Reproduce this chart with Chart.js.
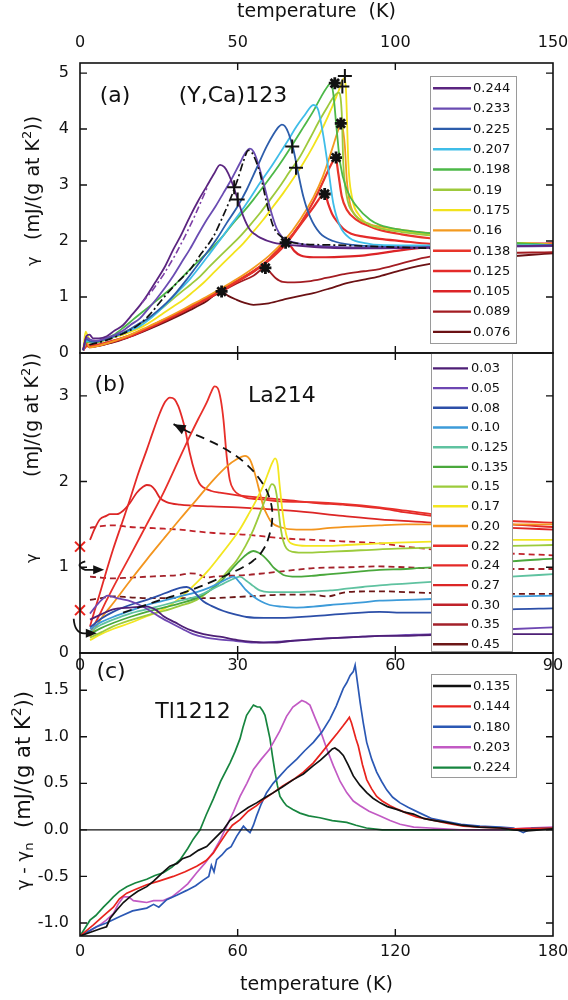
<!DOCTYPE html>
<html>
<head>
<meta charset="utf-8">
<script src="https://cdn.jsdelivr.net/npm/chart.js@4.4.1/dist/chart.umd.min.js"></script>
<style>
  body { margin: 0; background: #fff; width: 568px; height: 1000px; position: relative; overflow: hidden; }
  canvas { position: absolute; left: 0; }
</style>
</head>
<body>
<canvas id="panelA" width="568" height="363" style="top:0px"></canvas>
<canvas id="panelB" width="568" height="350" style="top:343px"></canvas>
<canvas id="panelC" width="568" height="357" style="top:643px"></canvas>
<script>
// ---------- panel (a): (Y,Ca)123 ----------
const ticksXA = [0, 50, 100, 150];
const ticksYA = [0, 1, 2, 3, 4, 5];
const labelsA = ['0.244', '0.233', '0.225', '0.207', '0.198', '0.19', '0.175', '0.16', '0.138', '0.125', '0.105', '0.089', '0.076'];
const colorsA = ['#5b2580', '#6a4cb2', '#2d5dab', '#3fbde8', '#4cb848', '#9dc93c', '#f2e31c', '#f39a1f', '#e8352a', '#e42b2a', '#dc2427', '#a31c22', '#6b1114'];

const a0244 = [[1,0.05],[2,0.3],[3,0.33],[4.2,0.26],[6,0.26],[8.5,0.3],[11,0.4],[13.7,0.5],[16,0.65],[19,0.85],[21.5,1.05],[24.3,1.3],[27,1.55],[29.6,1.85],[32,2.1],[34.9,2.44],[37.5,2.72],[40.2,2.98],[42.5,3.2],[44.4,3.36],[45.8,3.32],[47,3.21],[48.5,3.0],[49.7,2.8],[51.8,2.44],[53.9,2.2],[55.5,2.12],[57.1,2.06],[61.3,1.97],[68.7,1.92],[79.3,1.88],[95,1.87],[110,1.88],[130,1.9],[150,1.92]];
const a0233 = [[1,0.05],[2,0.28],[3.2,0.24],[5,0.22],[8.5,0.27],[11,0.32],[13.7,0.4],[16,0.5],[19,0.62],[21.5,0.78],[24.3,0.97],[27,1.17],[29.6,1.38],[32,1.6],[34.9,1.86],[37.5,2.12],[40.2,2.38],[43,2.62],[45.5,2.86],[48,3.1],[50.7,3.39],[52.5,3.58],[53.9,3.65],[55,3.6],[56,3.47],[58.1,3.06],[60.3,2.58],[62.4,2.22],[64,2.08],[65.5,2.02],[70.8,1.94],[79.3,1.9],[95,1.88],[110,1.88],[130,1.9],[150,1.91]];
const a0225 = [[1,0.05],[2,0.25],[3.2,0.21],[5,0.2],[8.5,0.26],[11.5,0.31],[14.8,0.39],[18,0.5],[21.1,0.6],[24.3,0.74],[27.5,0.9],[30.5,1.08],[33.8,1.31],[37,1.55],[40.2,1.79],[43.5,2.05],[46.5,2.32],[50,2.62],[52.9,2.92],[56,3.3],[59.2,3.69],[61.5,3.92],[63,4.04],[64,4.08],[65,4.05],[66.1,3.93],[67.7,3.63],[69.2,3.21],[70.8,2.8],[72.9,2.44],[76.1,2.14],[80.3,2.0],[86.7,1.93],[95,1.9],[110,1.89],[130,1.9],[150,1.92]];
const a0207 = [[1,0.05],[2,0.22],[4,0.2],[6.3,0.22],[9.5,0.27],[12.7,0.33],[15.8,0.4],[19,0.48],[22,0.6],[25.4,0.77],[28.5,0.94],[31.7,1.13],[35,1.33],[38.1,1.55],[41.2,1.78],[44.4,2.02],[47.5,2.26],[50.7,2.5],[54,2.77],[57.1,3.04],[60.3,3.3],[63.4,3.57],[66,3.8],[68.7,4.05],[71.5,4.27],[73.2,4.4],[74,4.43],[75,4.4],[75.6,4.33],[77.2,3.87],[78.8,3.27],[80.3,2.68],[82.5,2.26],[85.6,2.05],[90.9,1.96],[95,1.93],[110,1.92],[130,1.92],[150,1.93]];
const a0198 = [[1,0.05],[2,0.2],[5.3,0.2],[8,0.25],[10.6,0.32],[13.7,0.45],[16.9,0.6],[20,0.74],[23.3,0.89],[26.5,1.04],[29.6,1.19],[32.7,1.37],[35.9,1.55],[39,1.72],[42.3,1.9],[45.5,2.1],[48.6,2.32],[51.8,2.52],[55,2.74],[58.1,2.97],[61.3,3.21],[64.5,3.47],[67.7,3.75],[70.8,4.03],[74,4.32],[76.5,4.58],[78.5,4.76],[79.5,4.82],[80.3,4.64],[81.4,3.99],[82.5,3.39],[84.6,2.92],[87.7,2.62],[92,2.38],[95,2.29],[102,2.2],[111,2.14],[130,2.0],[150,1.93]];
const a0190 = [[1,0.05],[2,0.2],[6.3,0.2],[9.5,0.27],[12.7,0.33],[15.8,0.42],[19,0.51],[22,0.63],[25.4,0.77],[28.5,0.92],[31.7,1.07],[35,1.22],[38.1,1.37],[41.2,1.55],[44.4,1.73],[47.5,1.9],[50.7,2.08],[54,2.29],[57.1,2.5],[60.3,2.74],[63.4,2.98],[66.5,3.24],[69.8,3.51],[73,3.84],[76.1,4.17],[78.5,4.4],[80.5,4.58],[82,4.65],[83,4.29],[83.5,3.39],[84.6,2.8],[86.7,2.5],[90.9,2.32],[95,2.23],[102,2.16],[111,2.1],[130,1.98],[150,1.92]];
const a0175 = [[1,0.05],[1.8,0.38],[2.5,0.3],[4,0.18],[7.4,0.22],[10.5,0.28],[13.7,0.33],[17,0.4],[20.1,0.48],[23.3,0.59],[26.4,0.71],[29.6,0.83],[32.8,0.95],[36,1.1],[39.1,1.25],[42.3,1.43],[45.5,1.61],[48.6,1.78],[51.8,1.96],[55,2.17],[58.1,2.38],[61.3,2.62],[64.5,2.86],[67.7,3.12],[70.8,3.39],[74,3.7],[77.2,4.05],[80,4.4],[82.5,4.75],[83.6,4.9],[84.3,4.75],[84.6,4.3],[85.1,3.39],[86.2,2.8],[88.8,2.44],[93,2.26],[95,2.23],[102,2.18],[111,2.12],[130,2.0],[150,1.93]];
const a0160 = [[1,0.05],[2,0.2],[3,0.1],[5,0.12],[10,0.2],[15,0.3],[20,0.43],[25,0.56],[30,0.7],[35,0.85],[40,1.0],[45,1.16],[50,1.33],[55,1.52],[60,1.74],[65,2.02],[70,2.4],[74,2.78],[77,3.15],[80,3.65],[82,4.0],[82.8,4.1],[83.5,3.95],[84,3.69],[84.6,3.1],[85.6,2.68],[87.7,2.44],[92,2.3],[95,2.26],[102,2.2],[111,2.14],[130,2.0],[150,1.94]];
const a0138 = [[1,0.05],[2,0.12],[5,0.14],[10,0.21],[15,0.29],[20,0.41],[25,0.54],[30,0.68],[35,0.82],[40,0.97],[45,1.12],[50,1.29],[55,1.46],[60,1.67],[65,1.95],[70,2.32],[74,2.7],[77,3.05],[79.5,3.35],[81.1,3.48],[81.9,3.21],[83,2.8],[84.6,2.56],[87.7,2.38],[92,2.26],[95,2.2],[102,2.12],[111,2.05],[130,1.95],[150,1.92]];
const a0125 = [[1,0.05],[2,0.15],[5,0.13],[10,0.2],[15,0.28],[20,0.4],[25,0.53],[30,0.67],[35,0.81],[40,0.96],[45,1.11],[50,1.28],[55,1.45],[60,1.66],[65,1.93],[70,2.3],[74,2.6],[76.5,2.8],[77.6,2.84],[78.8,2.65],[80,2.48],[81.5,2.35],[83.5,2.22],[86,2.13],[90,2.08],[95,2.04],[102,2.0],[111,1.95],[130,1.92],[150,1.95]];
const a0105 = [[1,0.05],[2,0.14],[5,0.14],[10,0.21],[15,0.3],[20,0.41],[25,0.55],[30,0.68],[35,0.83],[40,0.98],[45,1.13],[50,1.29],[55,1.46],[60,1.68],[63,1.85],[65.2,1.97],[66.5,1.93],[68,1.82],[70,1.74],[74,1.71],[78,1.71],[84,1.72],[89.5,1.74],[95,1.78],[101,1.83],[111,1.89],[130,1.94],[150,1.96]];
const a0089 = [[1,0.05],[2,0.12],[5,0.12],[10,0.19],[15,0.28],[20,0.39],[25,0.52],[30,0.65],[35,0.8],[40,0.95],[45,1.1],[50,1.25],[55,1.38],[58.8,1.52],[60,1.46],[62,1.34],[64.3,1.27],[68,1.26],[72.3,1.28],[78,1.34],[83.8,1.41],[90,1.46],[95,1.5],[102,1.6],[111,1.72],[130,1.78],[150,1.8]];
const a0076 = [[1,0.05],[2,0.18],[3,0.1],[5,0.12],[10,0.18],[15,0.27],[20,0.38],[25,0.5],[30,0.63],[35,0.77],[40,0.92],[44.9,1.1],[47,1.02],[49.7,0.95],[52,0.9],[55,0.86],[59.2,0.88],[64.3,0.95],[68,1.0],[74,1.07],[79,1.15],[84.6,1.25],[90,1.31],[95,1.37],[102,1.48],[111,1.59],[130,1.7],[150,1.78]];
const seriesA = [a0244, a0233, a0225, a0207, a0198, a0190, a0175, a0160, a0138, a0125, a0105, a0089, a0076];

const dashDotPurpleA = [[19.7,0.9],[23,1.12],[26.5,1.4],[30,1.73],[33,2.05],[36,2.4],[38.5,2.72],[40.5,2.98]];
const dashDotBlackA = [[3,0.15],[8,0.22],[13,0.33],[18,0.48],[22,0.68],[26.4,0.98],[30.5,1.24],[34.9,1.49],[38.5,1.78],[42.3,2.08],[45,2.4],[47.6,2.74],[50,3.1],[51.8,3.42],[53.4,3.62],[54.5,3.58],[56,3.4],[57.1,3.21],[59.2,2.68],[61.3,2.26],[64.5,2.05],[68.7,1.96],[79.3,1.93],[95,1.9],[111,1.87]];
const markBoldA = [[44.9,1.1],[58.8,1.52],[65.2,1.97],[77.6,2.84],[81.2,3.49],[82.7,4.1],[80.8,4.82]];
const markThinA = [[48.9,2.96],[50,2.74],[67.3,3.69],[68.5,3.31],[84,4.95],[83.2,4.76]];

// ---------- panel (b): La214 ----------
const ticksXB = [0, 30, 60, 90];
const ticksYB = [0, 1, 2, 3];
const labelsB = ['0.03', '0.05', '0.08', '0.10', '0.125', '0.135', '0.15', '0.17', '0.20', '0.22', '0.24', '0.27', '0.30', '0.35', '0.45'];
const colorsB = ['#4e1f76', '#6e47b2', '#2c4fa8', '#3d9bd9', '#5fc2a0', '#4aa83c', '#9ccb3c', '#f3e620', '#f3951e', '#e8302a', '#e42a28', '#dc2626', '#c0222a', '#a3212a', '#6c1717'];

const b003 = [[1.9,0.39],[4,0.45],[6.3,0.51],[9.5,0.53],[12.7,0.54],[14.5,0.5],[15.9,0.43],[18,0.36],[20.9,0.27],[23.5,0.22],[26.6,0.19],[30,0.15],[33,0.13],[36.6,0.12],[40,0.14],[44.4,0.16],[47,0.17],[53.8,0.19],[57,0.2],[62,0.2],[66.9,0.21],[75,0.21],[82,0.22],[90,0.22]];
const b005 = [[1.9,0.46],[3.5,0.58],[5.3,0.67],[7,0.64],[9.8,0.6],[12,0.54],[13.9,0.47],[15.5,0.41],[17.3,0.35],[19.5,0.28],[21.5,0.22],[24,0.18],[26.3,0.16],[29.7,0.14],[33,0.12],[37,0.13],[40,0.14],[44,0.16],[47,0.17],[50,0.18],[53.8,0.19],[57,0.2],[62,0.21],[66.9,0.22],[75,0.25],[82.7,0.28],[90,0.3]];
const b008 = [[1.9,0.3],[4,0.4],[6.3,0.48],[9.5,0.56],[12.7,0.62],[15,0.67],[17.1,0.72],[19,0.76],[20.3,0.77],[21.3,0.74],[22.2,0.68],[23.5,0.6],[25,0.55],[27.3,0.49],[29.5,0.45],[31.7,0.42],[35,0.41],[38,0.41],[44.4,0.43],[50.7,0.46],[57,0.48],[62,0.47],[66.9,0.47],[75,0.49],[82,0.51],[90,0.52]];
const b010 = [[1.9,0.28],[4,0.36],[6.3,0.42],[9.5,0.49],[12.7,0.56],[15.9,0.61],[19,0.66],[22.2,0.71],[24.5,0.76],[26.6,0.82],[28.2,0.87],[29.2,0.89],[30.4,0.82],[31.5,0.74],[33,0.66],[34.5,0.6],[36.1,0.56],[38.5,0.54],[41.2,0.53],[44.4,0.54],[47.6,0.56],[53.8,0.59],[57,0.61],[62,0.62],[66.9,0.63],[75,0.64],[82,0.66],[90,0.67]];
const b0125 = [[1.9,0.25],[4,0.33],[6.3,0.39],[9.5,0.46],[12.7,0.51],[15.9,0.56],[19,0.61],[22.2,0.66],[25,0.74],[27.3,0.81],[29,0.86],[30.4,0.89],[31.7,0.84],[33,0.78],[34.2,0.73],[36,0.71],[38,0.71],[41,0.71],[44.4,0.72],[47.6,0.73],[50.7,0.75],[53.8,0.77],[57,0.79],[62,0.81],[66.9,0.83],[75,0.86],[82,0.89],[90,0.92]];
const b0135 = [[1.9,0.22],[4,0.29],[6.3,0.35],[9.5,0.42],[12.7,0.48],[15.9,0.53],[19,0.58],[22.2,0.64],[24.5,0.72],[26.6,0.82],[28.2,0.93],[29.8,1.04],[31.7,1.15],[33,1.19],[34,1.17],[34.9,1.13],[36,1.06],[36.8,1.0],[38,0.94],[38.7,0.91],[41.2,0.89],[44,0.9],[47.6,0.92],[53,0.95],[57,0.97],[62,0.98],[66.9,1.0],[75,1.03],[82,1.07],[90,1.1]];
const b015 = [[1.9,0.18],[4,0.24],[6.3,0.31],[9.5,0.38],[12.7,0.44],[15.9,0.49],[19,0.55],[22.2,0.62],[24.5,0.72],[26.6,0.85],[28.3,0.97],[29.8,1.08],[31.5,1.25],[33,1.44],[34.3,1.64],[35.5,1.83],[36.5,1.97],[37,1.95],[37.4,1.85],[37.8,1.65],[38.2,1.45],[38.7,1.3],[39.3,1.22],[40.5,1.18],[43.1,1.17],[47,1.18],[50.7,1.19],[57,1.21],[62,1.22],[66.9,1.23],[75,1.24],[82,1.25],[90,1.26]];
const b017 = [[1.9,0.15],[4,0.22],[6.3,0.28],[9.5,0.35],[12.7,0.43],[15.9,0.51],[19,0.64],[22.2,0.82],[24.5,0.97],[26.6,1.13],[28.5,1.28],[30.4,1.44],[32,1.61],[33.6,1.79],[35,1.97],[35.8,2.1],[36.6,2.22],[37.1,2.27],[37.6,2.2],[38,1.95],[38.4,1.72],[39,1.45],[39.5,1.33],[40.5,1.27],[43.1,1.25],[47,1.25],[50.7,1.26],[57,1.28],[62,1.29],[66.9,1.3],[75,1.31],[82,1.32],[90,1.32]];
const b020 = [[1.9,0.19],[4,0.4],[6.3,0.58],[9.5,0.84],[12.7,1.09],[15.9,1.33],[19,1.56],[22.2,1.79],[25.4,2.02],[28,2.18],[29.8,2.26],[31.4,2.3],[32.3,2.26],[33,2.15],[33.6,2.02],[34.3,1.85],[34.9,1.71],[35.7,1.6],[36.5,1.52],[38,1.47],[41.2,1.44],[44,1.44],[47.6,1.46],[53.8,1.48],[57,1.49],[62,1.5],[66.9,1.5],[75,1.5],[82,1.5],[90,1.5]];
const b022 = [[1.9,0.23],[3.5,0.42],[5.1,0.62],[7.3,0.88],[9.5,1.13],[12.7,1.5],[15.9,1.87],[18.4,2.2],[20.9,2.53],[22.5,2.73],[24.1,2.92],[25,3.05],[25.6,3.11],[26.2,3.09],[26.8,2.95],[27.3,2.72],[27.9,2.3],[28.5,2.02],[29.3,1.9],[30.5,1.84],[31.7,1.81],[35,1.79],[38,1.77],[44.4,1.76],[50,1.74],[57,1.7],[62,1.66],[66.9,1.62],[75,1.57],[82,1.54],[90,1.52]];
const b024 = [[1.9,0.31],[2.8,0.5],[3.8,0.7],[5,0.95],[6.3,1.21],[7.9,1.5],[9.5,1.79],[11,2.08],[12.7,2.37],[14,2.6],[15.2,2.8],[16.2,2.93],[17.1,2.98],[18,2.96],[18.7,2.88],[19.4,2.75],[20,2.61],[20.9,2.33],[21.9,2.1],[22.7,1.98],[23.5,1.93],[25,1.89],[26.6,1.87],[30,1.84],[35,1.81],[40,1.78],[45,1.75],[50,1.73],[57,1.69],[62,1.64],[66.9,1.6],[75,1.55],[82,1.5],[90,1.47]];
const b027 = [[1.9,1.32],[2.8,1.45],[3.8,1.56],[5,1.6],[5.7,1.62],[7,1.62],[8.2,1.66],[9.5,1.75],[10.8,1.87],[12,1.94],[12.7,1.96],[13.5,1.95],[14.3,1.9],[15.2,1.81],[16.5,1.76],[19,1.73],[25,1.71],[30,1.7],[40,1.66],[50,1.6],[57,1.56],[66.9,1.52],[75,1.48],[82,1.46],[90,1.44]];
const b030 = [[1.9,1.46],[4,1.48],[6.3,1.49],[9.5,1.47],[12.7,1.46],[16,1.45],[19,1.44],[22,1.42],[25.4,1.4],[28.5,1.39],[31.7,1.38],[35,1.36],[38,1.34],[44.4,1.32],[50.7,1.3],[57,1.28],[62,1.24],[66.9,1.21],[75,1.18],[82,1.16],[90,1.14]];
const b035 = [[1.9,0.89],[4,0.88],[6.3,0.87],[9.5,0.88],[12.7,0.89],[16,0.9],[19,0.91],[21,0.93],[22.5,0.92],[24,0.88],[25.4,0.89],[28,0.9],[31.7,0.91],[35,0.93],[38,0.95],[41,0.97],[44.4,0.99],[50.7,1.0],[57,1.01],[62,1.0],[66.9,0.99],[75,0.99],[82,0.98],[90,0.98]];
const b045 = [[1.9,0.62],[4,0.64],[6.3,0.66],[9.5,0.65],[12.7,0.64],[16,0.64],[19,0.64],[22.2,0.64],[25.4,0.64],[28.5,0.65],[31.7,0.66],[35,0.67],[38,0.68],[44.4,0.68],[47,0.66],[50.7,0.71],[57,0.72],[62,0.71],[66.9,0.7],[75,0.69],[82,0.69],[90,0.69]];
const seriesB = [b003, b005, b008, b010, b0125, b0135, b015, b017, b020, b022, b024, b027, b030, b035, b045];
const dashedB = [false, false, false, false, false, false, false, false, false, false, false, false, true, true, true];

const gammaZeroB = [[0,1.24],[0,0.5]];
const trendArrowB = [[8.2,0.47],[12,0.55],[15.9,0.63],[19,0.69],[22.2,0.76],[25,0.83],[27.9,0.91],[31,1.0],[33,1.08],[34.6,1.18],[35.9,1.35],[36.6,1.6],[36,1.82],[34.5,2.0],[31.7,2.2],[27.9,2.37],[24.1,2.49],[20.3,2.59],[17.8,2.67]];
const hookUpperB = [[1.0,1.07],[-1.2,1.03],[1.0,0.97],[4.6,0.97]];
const hookLowerB = [[-1.2,0.4],[-1.0,0.23],[0.8,0.23],[3.2,0.23]];

// ---------- panel (c): Tl1212 ----------
const ticksXC = [0, 60, 120, 180];
const ticksYC = [-1, -0.5, 0, 0.5, 1, 1.5];
const labelsC = ['0.135', '0.144', '0.180', '0.203', '0.224'];
const colorsC = ['#111111', '#e8231d', '#2b58b4', '#c25ac4', '#17853f'];

const c0135 = [[0,-1.14],[4,-1.1],[8,-1.06],[10.1,-1.04],[11.5,-0.95],[14,-0.86],[16.5,-0.78],[19,-0.72],[22,-0.66],[25.4,-0.61],[28,-0.55],[31,-0.47],[34.2,-0.39],[37,-0.36],[39,-0.31],[41.9,-0.28],[45,-0.22],[48.2,-0.18],[51,-0.1],[54.5,0.0],[57,0.1],[60.9,0.18],[64,0.24],[67.2,0.29],[70,0.34],[73.6,0.4],[77,0.46],[81.2,0.54],[85,0.6],[88.8,0.69],[91.5,0.75],[93.9,0.81],[96,0.87],[97,0.88],[98.5,0.85],[100.2,0.8],[102,0.7],[104,0.58],[106.5,0.48],[109.1,0.4],[111.5,0.34],[114.2,0.29],[117,0.25],[120.5,0.22],[123.5,0.19],[126.9,0.17],[131,0.12],[135,0.1],[139.5,0.08],[145,0.05],[152,0.03],[160,0.02],[165,0.0],[170,-0.01],[180,0.01]];
const c0144 = [[0,-1.14],[5.1,-1.02],[9,-0.92],[12.7,-0.83],[15,-0.74],[17.8,-0.68],[21,-0.64],[25.4,-0.59],[30,-0.55],[35.5,-0.5],[40,-0.45],[44.4,-0.39],[48,-0.33],[50.7,-0.25],[53,-0.15],[55.8,-0.03],[58,0.05],[60.9,0.11],[64,0.2],[67.2,0.26],[70,0.33],[73.6,0.4],[77,0.47],[81.2,0.54],[85,0.62],[88.8,0.72],[92,0.83],[95.1,0.94],[98,1.04],[100.2,1.12],[101.5,1.17],[102.5,1.21],[103.3,1.15],[104,1.08],[105,0.98],[105.9,0.9],[107.5,0.7],[109.1,0.54],[111,0.44],[112.9,0.36],[115,0.31],[118,0.26],[121,0.22],[124.3,0.18],[128,0.14],[133.2,0.11],[140,0.07],[145.9,0.04],[152,0.03],[158.6,0.02],[165,0.01],[180,0.02]];
const c0180 = [[0,-1.14],[6.3,-1.04],[10,-1.0],[15.2,-0.93],[20,-0.87],[25.4,-0.84],[28,-0.8],[30,-0.83],[33,-0.75],[37,-0.7],[40.6,-0.65],[44,-0.6],[46.9,-0.54],[49,-0.5],[50,-0.38],[51,-0.45],[52,-0.32],[54,-0.27],[55.8,-0.21],[57.5,-0.18],[59.6,-0.07],[61,-0.01],[62.2,0.04],[63.5,0.0],[64.7,-0.03],[66,0.05],[67.2,0.15],[69,0.28],[71,0.4],[73.5,0.5],[76.1,0.58],[79,0.67],[82.5,0.76],[85.5,0.85],[88.8,0.94],[92,1.05],[95.1,1.19],[97.5,1.33],[100.2,1.52],[101.5,1.58],[102.8,1.66],[104,1.7],[104.7,1.77],[105.5,1.6],[106.6,1.37],[107.8,1.15],[109.1,0.94],[111,0.76],[112.9,0.62],[114.8,0.52],[116.7,0.43],[119,0.35],[121.8,0.29],[125,0.24],[129.4,0.18],[134,0.12],[139.5,0.09],[145,0.06],[152.2,0.04],[160,0.03],[165,0.02],[168.7,-0.03],[172,0.02],[180,0.02]];
const c0203 = [[0,-1.14],[4,-1.08],[7.6,-1.02],[10,-0.97],[12.7,-0.9],[14.5,-0.8],[16.5,-0.72],[18.5,-0.72],[20.3,-0.76],[23,-0.77],[25.4,-0.78],[28,-0.76],[31.7,-0.76],[35,-0.72],[38.1,-0.65],[41,-0.58],[44.4,-0.46],[47.5,-0.36],[50.7,-0.24],[53.5,-0.1],[55.8,0.04],[58.5,0.2],[60.9,0.36],[63.5,0.5],[66,0.65],[69,0.76],[72,0.86],[73.6,0.94],[76,1.06],[78.6,1.22],[81,1.32],[84.4,1.39],[86,1.37],[87.5,1.34],[89.5,1.2],[91.3,1.08],[93.8,0.88],[96.4,0.69],[99,0.52],[101.5,0.4],[104,0.31],[106.6,0.26],[110,0.2],[114.2,0.15],[118,0.1],[121.8,0.06],[127,0.03],[133.2,0.02],[145,0.0],[160,0.0],[170,0.02],[180,0.03]];
const c0224 = [[0,-1.14],[3.8,-0.97],[6,-0.92],[8.9,-0.83],[11,-0.77],[12.7,-0.72],[15,-0.66],[17.8,-0.61],[21,-0.57],[25.4,-0.53],[28.5,-0.49],[31.7,-0.46],[35,-0.4],[38.1,-0.32],[41,-0.2],[43.1,-0.1],[45.7,0.0],[48,0.16],[50.7,0.33],[53.5,0.52],[57.1,0.72],[59,0.84],[60.9,0.98],[62,1.1],[63.4,1.23],[65,1.3],[66,1.34],[67.5,1.32],[68.5,1.32],[69.5,1.28],[70.4,1.23],[71.4,1.1],[72.3,0.98],[73.2,0.8],[74.2,0.62],[75.1,0.48],[76.1,0.36],[77.5,0.3],[78.6,0.26],[81,0.22],[83.7,0.18],[87,0.15],[91.3,0.13],[96,0.1],[101.5,0.08],[105,0.05],[109,0.02],[115,0.0],[120.5,0.0],[140,0.0],[160,0.0],[180,0.01]];
const seriesC = [c0135, c0144, c0180, c0203, c0224];
const zeroLineC = [[0,0],[180,0]];

// ---------- helpers ----------
const FONT = "'DejaVu Sans', sans-serif";
const GAMMA = '\u03b3';
Chart.defaults.font.family = FONT;
Chart.defaults.color = '#111';

// rotated y titles: each part starts at (bx, y) in canvas pixels and reads upwards
const yTitleA = [
  {bx: 38, y: 266, runs: [[GAMMA, 16, 0]]},
  {bx: 39, y: 240, runs: [['(mJ/(g at K', 19, 0], ['2', 13, 8], ['))', 19, 0]]}
];
const yTitleB = [
  {bx: 37, y: 220, runs: [[GAMMA, 16, 0]]},
  {bx: 38, y: 134, runs: [['(mJ/(g at K', 19, 0], ['2', 13, 8], ['))', 19, 0]]}
];
const yTitleC = [
  {bx: 29, y: 247, runs: [[GAMMA + ' - ' + GAMMA, 18, 0], ['n', 13, -4]]},
  {bx: 30, y: 185, runs: [['(mJ/(g at K', 21, 0], ['2', 14, 9], ['))', 21, 0]]}
];

const pts = arr => arr.map(([x, y]) => ({x, y}));
function line(data, color, width, extra) {
  return Object.assign({
    data: pts(data), borderColor: color, backgroundColor: color, borderWidth: width,
    pointRadius: 0, pointHoverRadius: 0, showLine: true, fill: false
  }, extra || {});
}
function head(ctx, x1, y1, x2, y2, len, half) {
  const a = Math.atan2(y2 - y1, x2 - x1);
  const bx = x2 - len * Math.cos(a), by = y2 - len * Math.sin(a);
  ctx.beginPath();
  ctx.moveTo(x2, y2);
  ctx.lineTo(bx + half * Math.sin(a), by - half * Math.cos(a));
  ctx.lineTo(bx - half * Math.sin(a), by + half * Math.cos(a));
  ctx.closePath();
  ctx.fill();
}
function drawYTitle(ctx, parts) {
  parts.forEach(p => {
    ctx.save();
    ctx.translate(p.bx, p.y);
    ctx.rotate(-Math.PI / 2);
    ctx.fillStyle = '#111';
    ctx.textAlign = 'left';
    ctx.textBaseline = 'alphabetic';
    let off = 0;
    p.runs.forEach(([t, size, rise]) => {
      ctx.font = size + 'px ' + FONT;
      ctx.fillText(t, off, -rise);
      off += ctx.measureText(t).width;
    });
    ctx.restore();
  });
}

// frame, inward ticks, legend box, labels and rotated y title
function panelPlugin(o) {
  return {
    id: 'panel',
    afterDatasetsDraw(chart) {
      const {ctx, chartArea: a, scales: {x, y}} = chart;
      ctx.save();
      ctx.fillStyle = '#111';

      o.texts.forEach(t => {
        ctx.font = t.size + 'px ' + FONT;
        ctx.textAlign = 'center';
        ctx.textBaseline = 'middle';
        ctx.fillText(t.text, x.getPixelForValue(t.x), y.getPixelForValue(t.y));
      });

      // legend
      const L = o.legend;
      ctx.fillStyle = '#fff';
      ctx.fillRect(L.box[0], L.box[1], L.box[2] - L.box[0], L.box[3] - L.box[1]);
      ctx.strokeStyle = '#9a9a9a';
      ctx.lineWidth = 1;
      ctx.strokeRect(L.box[0] + 0.5, L.box[1] + 0.5, L.box[2] - L.box[0], L.box[3] - L.box[1]);
      ctx.font = '13px ' + FONT;
      ctx.textAlign = 'left';
      ctx.textBaseline = 'middle';
      L.labels.forEach((lab, i) => {
        const yy = L.y0 + i * L.dy;
        ctx.strokeStyle = L.colors[i];
        ctx.lineWidth = 2.4;
        ctx.beginPath();
        ctx.moveTo(L.line[0], yy);
        ctx.lineTo(L.line[1], yy);
        ctx.stroke();
        ctx.fillStyle = '#111';
        ctx.fillText(lab, L.textX, yy + 0.5);
      });

      // frame + inward ticks
      ctx.strokeStyle = '#111';
      ctx.lineWidth = 1.6;
      ctx.strokeRect(a.left, a.top, a.right - a.left, a.bottom - a.top);
      ctx.lineWidth = 1.4;
      ctx.beginPath();
      o.xTicks.forEach(v => {
        const px = x.getPixelForValue(v);
        ctx.moveTo(px, a.top); ctx.lineTo(px, a.top + 7);
        ctx.moveTo(px, a.bottom); ctx.lineTo(px, a.bottom - 7);
      });
      o.yTicks.forEach(v => {
        const py = y.getPixelForValue(v);
        ctx.moveTo(a.left, py); ctx.lineTo(a.left + 7, py);
        ctx.moveTo(a.right, py); ctx.lineTo(a.right - 7, py);
      });
      ctx.stroke();
      ctx.restore();

      drawYTitle(ctx, o.yTitle);
    }
  };
}

// arrows of panel (b)
const arrowsPluginB = {
  id: 'arrowsB',
  afterDatasetsDraw(chart) {
    const {ctx, scales: {x, y}} = chart;
    const P = ([t, g]) => [x.getPixelForValue(t), y.getPixelForValue(g)];
    ctx.save();
    ctx.fillStyle = '#111';
    ctx.strokeStyle = '#111';
    ctx.lineWidth = 1.8;
    const n = trendArrowB.length;
    const [x1, y1] = P(trendArrowB[n - 2]);
    const [x2, y2] = P(trendArrowB[n - 1]);
    head(ctx, x1, y1, x2, y2, 12, 5);
    [hookUpperB, hookLowerB].forEach(h => {
      const [p0, p1, p2, p3] = h.map(P);
      ctx.beginPath();
      ctx.moveTo(p0[0], p0[1]);
      ctx.quadraticCurveTo(p1[0], p1[1], p2[0], p2[1]);
      ctx.lineTo(p3[0] - 6, p3[1]);
      ctx.stroke();
      head(ctx, p2[0], p2[1], p3[0], p3[1], 11, 4.5);
    });
    ctx.restore();
  }
};

function makeChart(id, c) {
  return new Chart(document.getElementById(id), {
    type: 'scatter',
    data: {datasets: c.datasets},
    options: {
      responsive: false,
      animation: false,
      events: [],
      layout: {padding: {left: 0, right: 15, top: c.padTop, bottom: c.padBottom}},
      plugins: {legend: {display: false}, tooltip: {enabled: false}},
      scales: {
        x: {
          type: 'linear', position: c.xPos, min: c.xTicks[0], max: c.xTicks[c.xTicks.length - 1],
          grid: {display: false, drawTicks: false}, border: {display: false},
          afterBuildTicks: s => { s.ticks = c.xTicks.map(v => ({value: v})); },
          ticks: {padding: c.xPad, font: {size: 16}, color: '#111'},
          title: c.xTitle,
          afterFit: s => { s.height = c.xHeight; s.paddingLeft = 0; s.paddingRight = 0; }
        },
        y: {
          type: 'linear', min: c.yMin, max: c.yMax,
          grid: {display: false, drawTicks: false}, border: {display: false},
          afterBuildTicks: s => { s.ticks = c.yTicks.map(v => ({value: v})); },
          ticks: {padding: 11, font: {size: 16}, color: '#111', callback: c.yFmt},
          afterFit: s => { s.width = 80; s.paddingTop = 0; s.paddingBottom = 0; }
        }
      }
    },
    plugins: c.plugins
  });
}

// ---------- panel (a) ----------
const dsA = [
  line(markBoldA, '#111', 3, {showLine: false, pointRadius: 6, pointStyle: 'star', pointBorderWidth: 2.8}),
  line(markThinA, '#111', 2, {showLine: false, pointRadius: 7, pointStyle: 'cross', pointBorderWidth: 2}),
  line(dashDotPurpleA, '#7d3fa6', 1.6, {borderDash: [7, 3, 2, 3]}),
  line(dashDotBlackA, '#111', 1.7, {borderDash: [8, 3, 2, 3], cubicInterpolationMode: 'monotone'})
].concat(seriesA.map((d, i) => line(d, colorsA[i], i >= 8 && i <= 10 ? 2.2 : 1.8, {cubicInterpolationMode: 'monotone'})));

makeChart('panelA', {
  datasets: dsA, xPos: 'top', xTicks: ticksXA, xPad: 10.4, xHeight: 63,
  xTitle: {display: true, text: 'temperature  (K)', font: {size: 19}, color: '#111', padding: {top: 1, bottom: 0}},
  yTicks: ticksYA, yMin: 0, yMax: 5.18, yFmt: v => String(v),
  padTop: 0, padBottom: 10,
  plugins: [panelPlugin({
    xTicks: [50, 100], yTicks: [1, 2, 3, 4, 5],
    texts: [{text: '(a)', x: 11.1, y: 4.59, size: 22}, {text: '(Y,Ca)123', x: 48.5, y: 4.59, size: 22}],
    legend: {box: [430, 76, 516, 343], y0: 88.3, dy: 20.3, line: [433, 471], textX: 473, labels: labelsA, colors: colorsA},
    yTitle: yTitleA
  })]
});

// ---------- panel (b) ----------
const dsB = [
  line(gammaZeroB, '#e8231d', 2, {showLine: false, pointRadius: 7, pointStyle: 'crossRot', pointBorderWidth: 2, clip: false}),
  line(trendArrowB, '#111', 1.8, {borderDash: [9, 6], tension: 0.4})
].concat(seriesB.map((d, i) => line(d, colorsB[i], 1.8, dashedB[i] ? {borderDash: [6, 4], cubicInterpolationMode: 'monotone'} : {cubicInterpolationMode: 'monotone'})));

makeChart('panelB', {
  datasets: dsB, xPos: 'bottom', xTicks: ticksXB, xPad: 3.4, xHeight: 40,
  xTitle: {display: false},
  yTicks: ticksYB, yMin: 0, yMax: 3.5, yFmt: v => String(v),
  padTop: 10, padBottom: 0,
  plugins: [panelPlugin({
    xTicks: [30, 60], yTicks: [1, 2, 3],
    texts: [{text: '(b)', x: 5.7, y: 3.12, size: 22}, {text: 'La214', x: 38.4, y: 2.99, size: 22}],
    legend: {box: [431, 10, 512, 308], y0: 25.4, dy: 19.7, line: [433, 468], textX: 471, labels: labelsB, colors: colorsB},
    yTitle: yTitleB
  }), arrowsPluginB]
});

// ---------- panel (c) ----------
const dsC = [line(zeroLineC, '#111', 1.4)]
  .concat(seriesC.map((d, i) => line(d, colorsC[i], 1.7)));

makeChart('panelC', {
  datasets: dsC, xPos: 'bottom', xTicks: ticksXC, xPad: 6.4, xHeight: 64,
  xTitle: {display: true, text: 'temperature (K)', font: {size: 19}, color: '#111', padding: {top: 0, bottom: 3.6}},
  yTicks: ticksYC, yMin: -1.14, yMax: 1.9, yFmt: v => v.toFixed(1),
  padTop: 10, padBottom: 0,
  plugins: [panelPlugin({
    xTicks: [60, 120], yTicks: [-1, -0.5, 0, 0.5, 1, 1.5],
    texts: [{text: '(c)', x: 11.8, y: 1.69, size: 22}, {text: 'Tl1212', x: 43, y: 1.26, size: 22}],
    legend: {box: [431, 31, 516, 134], y0: 43, dy: 20.4, line: [433, 471], textX: 473, labels: labelsC, colors: colorsC},
    yTitle: yTitleC
  })]
});
</script>
</body>
</html>
